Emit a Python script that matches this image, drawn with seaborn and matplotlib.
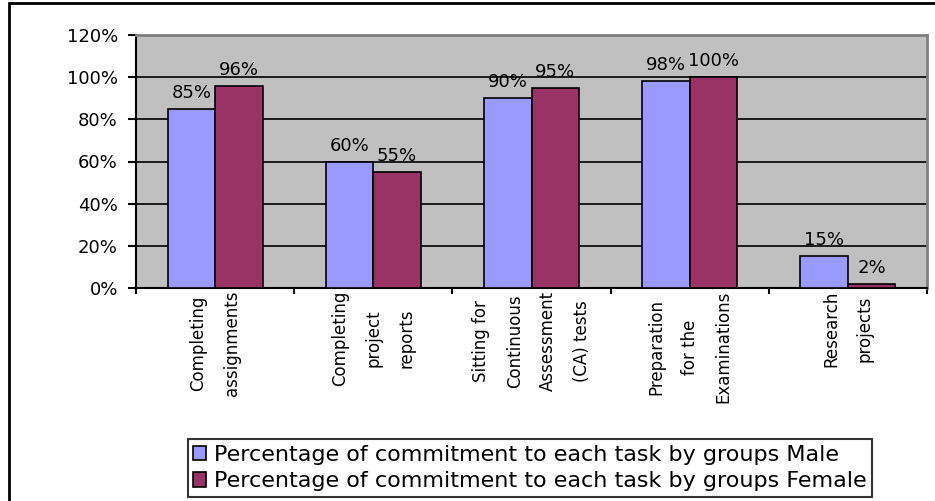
import numpy as np
import pandas as pd
import matplotlib
matplotlib.use("Agg")
import matplotlib.pyplot as plt
import matplotlib.patches as mpatches
import seaborn as sns

# data
tasks = ["Completing\nassignments",
         "Completing\nproject\nreports",
         "Sitting for\nContinuous\nAssessment\n(CA) tests",
         "Preparation\nfor the\nExaminations",
         "Research\nprojects"]
male = [85, 60, 90, 98, 15]
female = [96, 55, 95, 100, 2]
series = ["Percentage of commitment to each task by groups Male",
          "Percentage of commitment to each task by groups Female"]
yticks = [0, 20, 40, 60, 80, 100, 120]

df = pd.DataFrame({
    "task": tasks * 2,
    "value": male + female,
    "group": [series[0]] * len(tasks) + [series[1]] * len(tasks),
})

plt.rcParams.update({
    "font.family": ["DejaVu Sans"],
    "axes.linewidth": 1.5,
})

fig = plt.figure(figsize=(9.35, 5.01), dpi=100)
ax = fig.add_axes([136 / 935, 1 - 288 / 501, (927 - 136) / 935, (288 - 35) / 501])
ax.set_facecolor("#C0C0C0")

sns.barplot(data=df, x="task", y="value", hue="group", hue_order=series,
            palette=["#9999FF", "#993366"], width=0.6, edgecolor="black",
            linewidth=1.2, saturation=1, ax=ax, zorder=3)

for cont, vals in zip(ax.containers, [male, female]):
    ax.bar_label(cont, labels=[f"{v}%" for v in vals], padding=5, fontsize=13)

ax.set_ylim(0, 120)
ax.set_xlim(-0.5, len(tasks) - 0.5)
ax.set_yticks(yticks)
ax.set_yticklabels([f"{v}%" for v in yticks], fontsize=13)
ax.yaxis.grid(True, color="black", linewidth=1.2, zorder=0)
ax.set_axisbelow(True)
ax.tick_params(axis="y", length=6, width=1.5, pad=7)

ax.set_xticks(range(len(tasks)))
ax.set_xticklabels(tasks, rotation=90, fontsize=12, va="top", ha="center",
                   multialignment="center", linespacing=2.1)
ax.tick_params(axis="x", which="major", length=0, pad=2)
ax.set_xticks(np.arange(-0.5, len(tasks)), minor=True)
ax.tick_params(axis="x", which="minor", length=4, width=1.5)

ax.set_xlabel("")
ax.set_ylabel("")
for side in ["top", "right"]:
    ax.spines[side].set_color("#808080")
    ax.spines[side].set_linewidth(2)

handles, labels = ax.get_legend_handles_labels()
ax.get_legend().remove()
leg = fig.legend(handles, labels, loc="center", bbox_to_anchor=(530 / 935, 1 - 468 / 501),
                 fontsize=16, frameon=True, fancybox=False, shadow=False,
                 handlelength=0.6, handleheight=0.6, handletextpad=0.35,
                 labelspacing=0.3, borderpad=0.25, borderaxespad=0)
leg.get_frame().set_edgecolor("black")
leg.get_frame().set_linewidth(1.5)
for h in leg.legend_handles:
    h.set_edgecolor("black")
    h.set_linewidth(1.2)

# outer chart border
fig.patches.append(mpatches.Rectangle((9 / 935, -0.02), 1.0, 1 - 3 / 501 + 0.02,
                                      transform=fig.transFigure, fill=False,
                                      edgecolor="black", linewidth=2))

fig.savefig("out.png", dpi=100)
